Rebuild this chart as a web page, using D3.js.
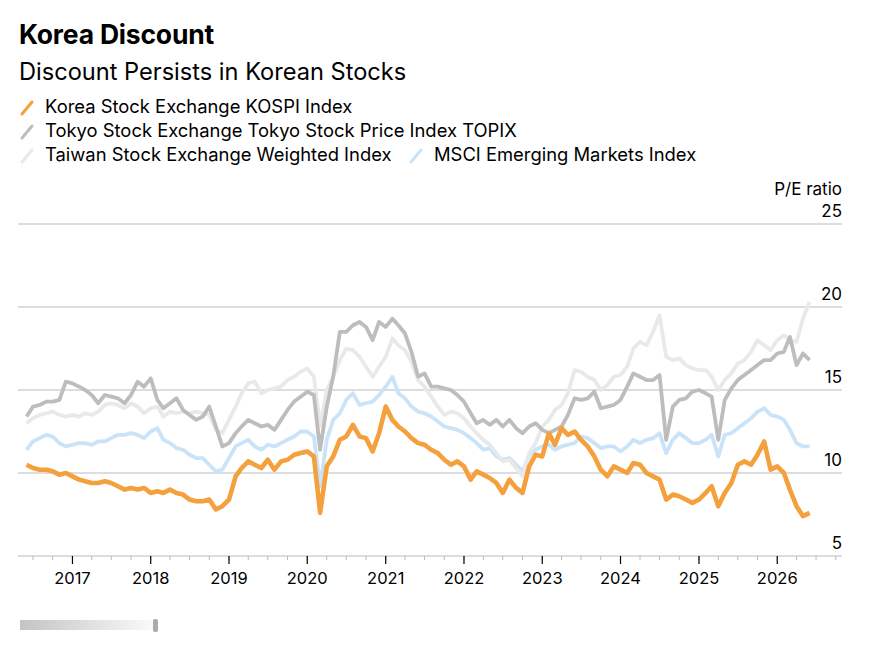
<!DOCTYPE html>
<html>
<head>
<meta charset="utf-8">
<script src="https://cdn.jsdelivr.net/npm/d3@7"></script>
<style>
  body { margin: 0; background: #fff; font-family: Inter, "Liberation Sans", Arial, sans-serif; }
</style>
</head>
<body>
<div id="chart"></div>
<script>
// monthly observations, Jun 2016 .. Jun 2026
const startMonth = new Date(2016, 5, 1);
const kospi = [
  10.5, 10.3, 10.2, 10.2, 10.1, 9.9, 10.0, 9.8, 9.6, 9.5, 9.4, 9.4,
  9.5, 9.4, 9.2, 9.0, 9.1, 9.0, 9.1, 8.8, 8.9, 8.8, 9.0, 8.8,
  8.7, 8.4, 8.3, 8.3, 8.4, 7.8, 8.0, 8.4, 9.8, 10.3, 10.7, 10.5,
  10.3, 10.8, 10.2, 10.7, 10.8, 11.1, 11.2, 11.3, 11.0, 7.6, 10.4, 11.0,
  12.0, 12.2, 12.9, 12.2, 12.1, 11.3, 12.4, 14.0, 13.2, 12.8, 12.5, 12.1,
  11.8, 11.7, 11.4, 11.2, 10.8, 10.5, 10.7, 10.4, 9.6, 10.1, 9.9, 9.7,
  9.4, 8.8, 9.6, 9.1, 8.8, 10.4, 11.1, 11.0, 12.4, 11.7, 12.7, 12.3,
  12.5, 12.0, 11.6, 11.0, 10.2, 9.8, 10.4, 10.2, 10.0, 10.6, 10.5, 10.0,
  9.8, 9.6, 8.4, 8.7, 8.6, 8.4, 8.2, 8.4, 8.8, 9.2, 8.0, 8.8,
  9.4, 10.5, 10.7, 10.5, 11.1, 11.9, 10.2, 10.4, 10.0, 9.0, 8.0, 7.4,
  7.6
];
const topix = [
  13.4, 14.0, 14.1, 14.3, 14.3, 14.4, 15.5, 15.4, 15.2, 15.0, 14.7, 14.2,
  14.7, 14.6, 14.5, 14.2, 14.7, 15.5, 15.2, 15.7, 14.4, 13.9, 14.2, 14.5,
  13.8, 13.5, 13.2, 13.4, 14.0, 12.8, 11.6, 11.8, 12.4, 12.8, 13.2, 13.0,
  12.8, 12.9, 12.6, 13.2, 13.8, 14.3, 14.6, 14.9, 14.7, 11.4, 14.0, 15.8,
  18.5, 18.5, 18.9, 19.1, 18.8, 18.0, 19.1, 18.8, 19.3, 18.9, 18.4, 17.3,
  15.8, 16.0, 15.2, 15.2, 15.1, 15.0, 14.7, 14.3, 13.6, 13.0, 13.2, 12.9,
  13.2, 12.8, 13.2, 12.7, 12.4, 12.8, 13.0, 12.6, 12.4, 12.6, 12.8, 13.5,
  14.5, 14.4, 14.5, 14.9, 13.9, 14.0, 14.1, 14.4, 15.2, 16.0, 15.8, 15.6,
  15.6, 15.9, 12.0, 14.0, 14.4, 14.5, 14.9, 15.0, 14.8, 14.6, 12.0, 14.4,
  15.1, 15.6, 15.9, 16.2, 16.5, 16.8, 16.8, 17.2, 17.3, 18.2, 16.5, 17.2,
  16.8
];
const taiwan = [
  13.0, 13.3, 13.5, 13.6, 13.7, 13.5, 13.4, 13.5, 13.4, 13.6, 13.5, 13.7,
  14.1, 14.2, 14.1, 13.9, 14.2, 14.0, 13.6, 13.9, 14.0, 13.4, 13.7, 13.6,
  13.7, 13.6, 13.7, 13.6, 13.5, 12.6, 12.4, 13.2, 14.0, 14.8, 15.4, 15.5,
  14.8, 15.0, 15.1, 15.2, 15.6, 15.8, 16.1, 16.3, 15.8, 12.8, 15.0, 15.8,
  16.8, 17.5, 17.4, 17.0, 16.4, 15.8, 16.4, 17.0, 18.1, 17.7, 17.4, 16.7,
  15.6, 15.2, 14.6, 14.0, 13.5, 13.7, 13.6, 13.3, 12.8, 12.4, 12.0, 11.7,
  11.2, 10.7, 10.8, 10.3, 9.8, 11.2, 11.8, 12.8, 13.2, 13.8, 14.1, 14.8,
  16.2, 16.1, 15.8, 15.6, 15.0, 15.3, 15.8, 15.9, 16.4, 17.5, 17.9, 17.7,
  18.5, 19.5, 17.0, 16.8, 16.9, 16.5, 16.3, 16.2, 16.2, 15.8, 15.0, 15.6,
  16.0, 16.6, 16.8, 17.3, 18.0, 17.7, 17.4, 18.0, 18.3, 18.0, 17.9, 19.3,
  20.3
];
const msci = [
  11.4, 11.9, 12.1, 12.3, 12.2, 11.8, 11.6, 11.7, 11.8, 11.8, 11.7, 11.9,
  11.9, 12.1, 12.3, 12.3, 12.4, 12.3, 12.1, 12.5, 12.7, 12.0, 11.8, 11.5,
  11.4, 11.1, 10.9, 10.9, 10.5, 10.1, 10.2, 10.9, 11.6, 11.8, 12.0, 11.6,
  11.4, 11.7, 11.6, 11.8, 12.0, 12.2, 12.5, 12.5, 12.2, 9.2, 12.0, 13.2,
  13.6, 14.4, 14.8, 14.1, 14.2, 14.3, 14.7, 15.2, 15.8, 14.8, 14.5, 14.0,
  13.7, 13.6, 13.4, 13.1, 12.8, 12.7, 12.6, 12.4, 12.1, 11.8, 11.4, 11.5,
  11.0, 10.8, 10.9, 10.5, 10.1, 11.0, 11.4, 11.6, 11.7, 11.4, 11.6, 11.7,
  11.8, 12.2, 12.1, 11.8, 11.5, 11.6, 11.6, 11.3, 11.6, 12.0, 11.8, 12.0,
  12.1, 12.4, 11.2, 12.0, 12.4, 12.1, 11.8, 11.8, 12.0, 12.3, 11.0, 12.3,
  12.4, 12.7, 13.0, 13.3, 13.7, 13.9, 13.5, 13.4, 13.2, 12.6, 11.8, 11.6,
  11.6
];
const seriesNames = [
  "Korea Stock Exchange KOSPI Index",
  "Tokyo Stock Exchange Tokyo Stock Price Index TOPIX",
  "Taiwan Stock Exchange Weighted Index",
  "MSCI Emerging Markets Index"
];
const yTicks = [5, 10, 15, 20, 25];
const yearTicks = [2017, 2018, 2019, 2020, 2021, 2022, 2023, 2024, 2025, 2026];

const colors = ["#f4a03c", "#bdbdbd", "#e9e9e9", "#cae3f9"];
const widths = [4.6, 3.8, 3.8, 3.8];

const W = 892, H = 660;
const plotL = 18, plotR = 842, plotT = 224, plotB = 556;

const dates = kospi.map((_, i) => d3.timeMonth.offset(startMonth, i));

const x = d3.scaleTime()
  .domain([new Date(2016, 3, 22), new Date(2026, 9, 30)])
  .range([plotL, plotR]);
const y = d3.scaleLinear().domain([5, 25]).range([plotB, plotT]);

const svg = d3.select("#chart").append("svg")
  .attr("width", W).attr("height", H);

// titles
svg.append("text").attr("x", 19).attr("y", 44)
  .attr("font-size", 26.5).attr("font-weight", "bold").attr("fill", "#000")
  .attr("letter-spacing", -0.2)
  .text("Korea Discount");
svg.append("text").attr("x", 19).attr("y", 80)
  .attr("font-size", 23.6).attr("fill", "#000")
  .text("Discount Persists in Korean Stocks");

// legend
const legendItems = [
  { name: seriesNames[0], c: colors[0], lx: 21, ly: 113 },
  { name: seriesNames[1], c: colors[1], lx: 21, ly: 137 },
  { name: seriesNames[2], c: colors[2], lx: 21, ly: 161 },
  { name: seriesNames[3], c: colors[3], lx: 410, ly: 161 }
];
const lg = svg.append("g");
legendItems.forEach(d => {
  lg.append("line")
    .attr("x1", d.lx + 1).attr("y1", d.ly + 1)
    .attr("x2", d.lx + 11).attr("y2", d.ly - 11)
    .attr("stroke", d.c).attr("stroke-width", 3).attr("stroke-linecap", "round");
  lg.append("text")
    .attr("x", d.lx + 24).attr("y", d.ly)
    .attr("font-size", 18.4).attr("fill", "#000")
    .text(d.name);
});

// y grid
svg.append("text").attr("x", plotR).attr("y", 195)
  .attr("text-anchor", "end").attr("font-size", 17).attr("fill", "#000")
  .text("P/E ratio");
const grid = svg.append("g");
grid.selectAll("line").data(yTicks).enter().append("line")
  .attr("x1", plotL).attr("x2", plotR)
  .attr("y1", d => y(d)).attr("y2", d => y(d))
  .attr("stroke", "#d2d2d2").attr("stroke-width", 1.3);
grid.selectAll("text").data(yTicks).enter().append("text")
  .attr("x", plotR).attr("y", d => y(d) - 7)
  .attr("text-anchor", "end").attr("font-size", 17).attr("fill", "#000")
  .text(d => d);

// x axis
const quarters = d3.timeMonth.every(3).range(x.domain()[0], x.domain()[1]);
const xa = svg.append("g").attr("transform", `translate(0,${plotB})`);
xa.selectAll("line.minor").data(quarters).enter().append("line")
  .attr("class", "minor")
  .attr("x1", d => x(d)).attr("x2", d => x(d))
  .attr("y1", 0).attr("y2", 4)
  .attr("stroke", "#bbb").attr("stroke-width", 1);
const yearDates = yearTicks.map(yr => new Date(yr, 0, 1));
xa.selectAll("line.major").data(yearDates).enter().append("line")
  .attr("class", "major")
  .attr("x1", d => x(d)).attr("x2", d => x(d))
  .attr("y1", 0).attr("y2", 8)
  .attr("stroke", "#000").attr("stroke-width", 1.2);
xa.selectAll("text").data(yearDates).enter().append("text")
  .attr("x", d => x(d)).attr("y", 28)
  .attr("text-anchor", "middle").attr("font-size", 16.5).attr("fill", "#000")
  .text(d => d.getFullYear());

// lines, MSCI at the back, KOSPI on top
const line = d3.line()
  .x((d, i) => x(dates[i]))
  .y(d => y(d))
  .curve(d3.curveLinear);
const order = [3, 2, 1, 0];
const all = [kospi, topix, taiwan, msci];
order.forEach(k => {
  svg.append("path")
    .datum(all[k])
    .attr("fill", "none")
    .attr("stroke", colors[k])
    .attr("stroke-width", widths[k])
    .attr("stroke-linejoin", "round")
    .attr("d", line);
});

// blurred source line
const defs = svg.append("defs");
const gr = defs.append("linearGradient").attr("id", "src");
gr.append("stop").attr("offset", "0%").attr("stop-color", "#c4c4c4");
gr.append("stop").attr("offset", "100%").attr("stop-color", "#fafafa");
svg.append("rect").attr("x", 20).attr("y", 620).attr("width", 135).attr("height", 10)
  .attr("fill", "url(#src)");
svg.append("rect").attr("x", 153).attr("y", 619).attr("width", 5).attr("height", 13)
  .attr("rx", 2).attr("fill", "#aaa");
</script>
</body>
</html>
